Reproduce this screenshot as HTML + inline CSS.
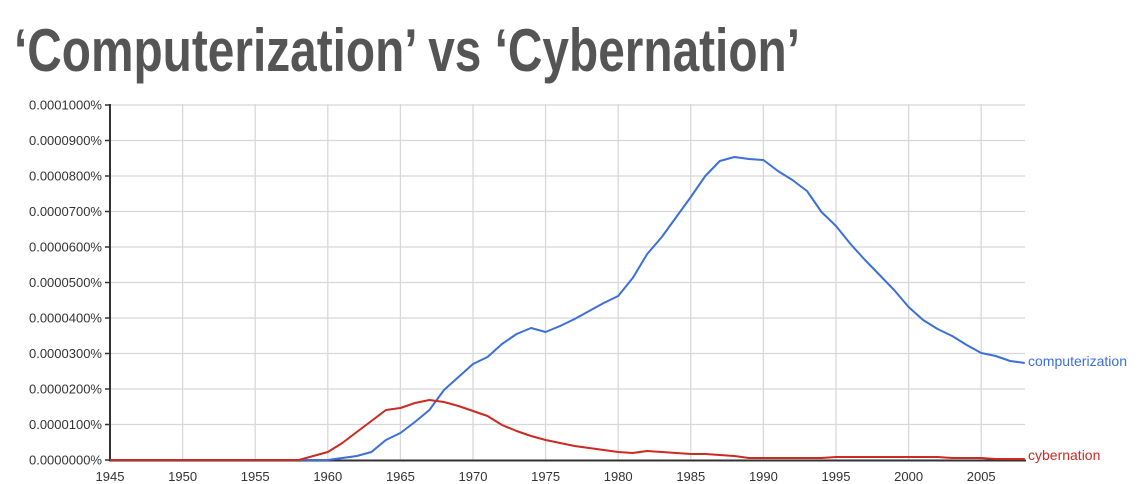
<!DOCTYPE html>
<html><head><meta charset="utf-8"><style>
html,body{margin:0;padding:0;background:#fff;width:1140px;height:484px;overflow:hidden}
svg{display:block}
</style></head><body>
<svg width="1140" height="484" xmlns="http://www.w3.org/2000/svg" font-family="Liberation Sans, Arial, sans-serif">
<text x="14" y="71" font-family="Liberation Sans Narrow, Liberation Sans, sans-serif" font-weight="bold" font-size="60" fill="#555" textLength="786" lengthAdjust="spacingAndGlyphs">‘Computerization’ vs ‘Cybernation’</text>
<g id="grid" stroke="#d8d8d8" stroke-width="1.3"></g>
<g id="labels" font-size="13" fill="#333"></g>
<line x1="110" y1="104" x2="110" y2="461" stroke="#333" stroke-width="2"/>
<line x1="109" y1="460.5" x2="1026" y2="460.5" stroke="#333" stroke-width="2"/>
<polyline id="blue" fill="none" stroke="#3d6fd8" stroke-width="2" stroke-linejoin="round"/>
<polyline id="red" fill="none" stroke="#cc2a22" stroke-width="2" stroke-linejoin="round"/>
<text x="1028" y="366" font-size="14" fill="#3d6fd8" textLength="99" lengthAdjust="spacingAndGlyphs">computerization</text>
<text x="1028" y="460" font-size="14" fill="#cc2a22">cybernation</text>
</svg>
<script>
var ns="http://www.w3.org/2000/svg";
var g=document.getElementById('grid'),L=document.getElementById('labels');
function X(y){return 110+(y-1945)*14.52;}
for(var i=0;i<=10;i++){var y=460-i*35.5;
 var l=document.createElementNS(ns,'line');l.setAttribute('x1',110);l.setAttribute('x2',1025);l.setAttribute('y1',y);l.setAttribute('y2',y);g.appendChild(l);
 var t=document.createElementNS(ns,'line');t.setAttribute('x1',105);t.setAttribute('x2',110);t.setAttribute('y1',y);t.setAttribute('y2',y);t.setAttribute('stroke','#333');t.setAttribute('stroke-width','1.5');L.appendChild(t);
 var s=document.createElementNS(ns,'text');s.setAttribute('x',102);s.setAttribute('y',y+4.5);s.setAttribute('text-anchor','end');
 s.textContent=(i==10)?'0.0001000%':'0.0000'+i+'00%';L.appendChild(s);}
for(var yr=1945;yr<=2005;yr+=5){var x=X(yr);
 if(yr>1945){var l=document.createElementNS(ns,'line');l.setAttribute('x1',x);l.setAttribute('x2',x);l.setAttribute('y1',104);l.setAttribute('y2',460);g.appendChild(l);}
 var s=document.createElementNS(ns,'text');s.setAttribute('x',x);s.setAttribute('y',481);s.setAttribute('text-anchor','middle');s.textContent=yr;L.appendChild(s);}
var b=[460,460,460,460,460,460,460,460,460,460,460,460,460,460,460,460,458,456,452,440,433,422,410,390,377,364,357,344,334,328,332,326,319,311,303,296,278,254,237,217,197,176,161,157,159,160,171,180,191,212,226,244,260,275,290,307,320,329,336,345,353,356,361,363];
var r=[460,460,460,460,460,460,460,460,460,460,460,460,460,460,456,452,443,432,421,410,408,403,400,402,406,411,416,425,431,436,440,443,446,448,450,452,453,451,452,453,454,454,455,456,458,458,458,458,458,458,457,457,457,457,457,457,457,457,458,458,458,459,459,459];
function pts(a){return a.map(function(v,i){return X(1945+i).toFixed(1)+','+v}).join(' ');}
document.getElementById('blue').setAttribute('points',pts(b));
document.getElementById('red').setAttribute('points',pts(r));
</script>
</body></html>
